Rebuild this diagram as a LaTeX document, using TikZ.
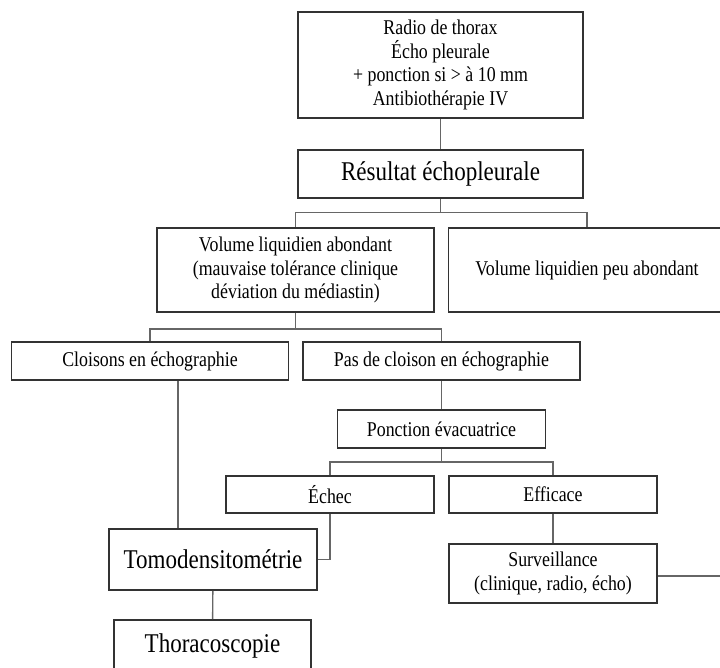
\documentclass[tikz,border=0pt]{standalone}
\usepackage{fontspec}
\setmainfont[FakeStretch=0.85]{Liberation Serif}
\usetikzlibrary{positioning}

\begin{document}
\begin{tikzpicture}[x=1pt, y=-1pt,
  b/.style={draw=black!80, line width=1.6pt, align=center, inner sep=0pt,
    font=\fontsize{21}{23.5}\selectfont},
  bb/.style={b, font=\fontsize{27.1}{30}\selectfont},
  ln/.style={draw=black!60, line width=1.4pt}]
\useasboundingbox (0,0) rectangle (720,668);
\clip (0,0) rectangle (720,668);
\node[b, minimum width=285pt, minimum height=106pt] (radio) at (440.5,65)
  {Radio de thorax\\ Écho pleurale\\ + ponction si > à 10 mm\\ Antibiothérapie IV};
\node[bb, minimum width=285pt, minimum height=48pt] (res) at (440.5,174) {Résultat échopleurale};
\node[b, minimum width=277pt, minimum height=84pt] (abond) at (295.5,270)
  {Volume liquidien abondant\\ (mauvaise tolérance clinique\\ déviation du médiastin)};
\node[b, minimum width=277pt, minimum height=84pt] (peu) at (587,270) {Volume liquidien peu abondant};
\node[b, minimum width=277pt, minimum height=38pt] (cloi) at (150,361) {Cloisons en échographie};
\node[b, minimum width=277pt, minimum height=38pt] (pas) at (441.5,361) {Pas de cloison en échographie};
\node[b, minimum width=208pt, minimum height=38pt] (ponc) at (441.5,429) {Ponction évacuatrice};
\node[b, minimum width=208pt, minimum height=37pt] (echec) at (330,494.5) {Échec};
\node[b, minimum width=208pt, minimum height=37pt] (eff) at (553,494.5) {Efficace};
\node[bb, minimum width=208pt, minimum height=61pt] (tomo) at (213,559.5) {Tomodensitométrie};
\node[b, minimum width=208pt, minimum height=59pt] (surv) at (553,573.5)
  {Surveillance\\ (clinique, radio, écho)};
\node[bb, minimum width=197pt, minimum height=52pt] (thor) at (212.5,646) {Thoracoscopie};
\coordinate (survend) at (730,576);
\draw[ln] (radio) -- (res);
\draw[ln] (res.south) -- ++(0,14) coordinate (r1) -| (abond.north);
\draw[ln] (r1) -| (peu.north);
\draw[ln] (abond.south) -- ++(0,16) coordinate (a1) -| (cloi.north);
\draw[ln] (a1) -| (pas.north);
\draw[ln] ([xshift=28pt]cloi.south) -- ([xshift=28pt]cloi.south |- tomo.north);
\draw[ln] (pas) -- (ponc);
\draw[ln] (ponc.south) -- ++(0,13) coordinate (p1) -| (echec.north);
\draw[ln] (p1) -| (eff.north);
\draw[ln] (echec.south) |- (tomo.east);
\draw[ln] (eff) -- (surv);
\draw[ln] ([yshift=-2.5pt]surv.east) -- (survend);
\draw[ln] (tomo) -- (thor);
\end{tikzpicture}
\end{document}
